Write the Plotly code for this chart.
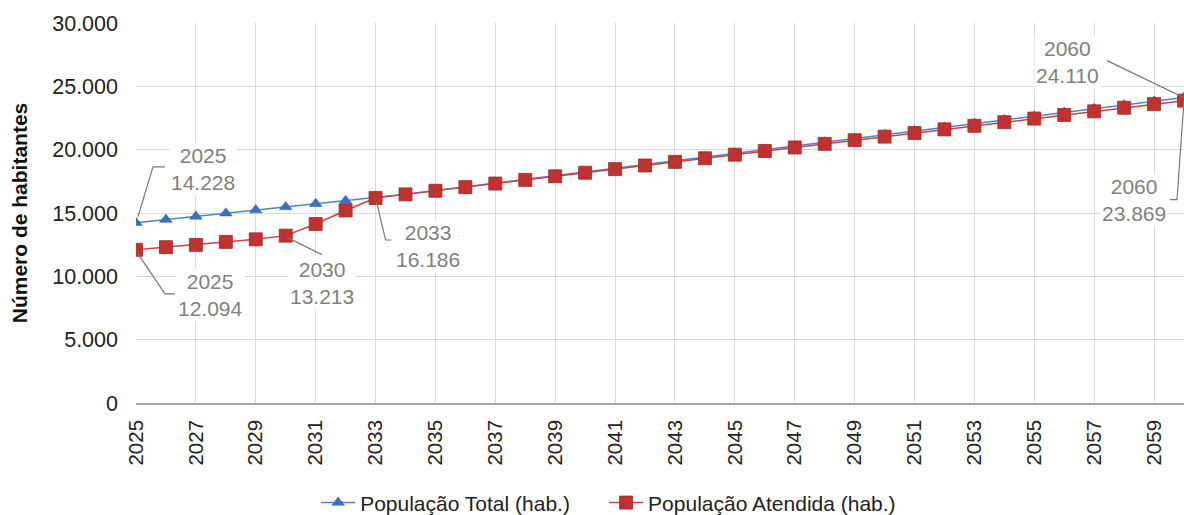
import plotly.graph_objects as go

years = list(range(2025, 2061))
pop_total = [14228, 14480, 14730, 14980, 15230, 15480, 15730, 15960, 16186,
             16480, 16773, 17066, 17360, 17654, 17947, 18240, 18534, 18828,
             19121, 19414, 19708, 20002, 20295, 20588, 20882, 21176, 21469,
             21762, 22056, 22350, 22643, 22936, 23230, 23524, 23817, 24110]
pop_atendida = [12094, 12300, 12480, 12720, 12920, 13213, 14130, 15200, 16186,
                16470, 16755, 17040, 17325, 17610, 17895, 18180, 18465, 18750,
                19035, 19320, 19605, 19890, 20175, 20460, 20745, 21030, 21315,
                21600, 21885, 22170, 22455, 22740, 23025, 23310, 23595, 23869]
tick_years = list(range(2025, 2060, 2))
tick_labels = [str(y) for y in tick_years]
y_ticks = [0, 5000, 10000, 15000, 20000, 25000, 30000]

FONT = "Liberation Sans, Arial, sans-serif"
GRAY = "#808080"
NB = "\u00a0"

def fmt(v):
    return f"{v:,}".replace(",", ".")

fig = go.Figure()
fig.add_trace(go.Scatter(
    x=years, y=pop_total, mode="lines+markers",
    name="População Total (hab.)" + NB * 5,
    line=dict(color="#4a86d0", width=1.5),
    marker=dict(symbol="triangle-up", size=11, color="#3d6fbf",
                line=dict(color="#2f5ea8", width=0.5)),
))
fig.add_trace(go.Scatter(
    x=years, y=pop_atendida, mode="lines+markers", name="População Atendida (hab.)",
    line=dict(color="#d0403f", width=1.5),
    marker=dict(symbol="square", size=13, color="#c0322f",
                line=dict(color="#a02825", width=0.8)),
))

# labels: (series, year, xshift, yshift, leader path in px relative to point, y up)
labels = [
    (pop_total, 2025, 67, 54, "M2,6 L17,56 L29,56"),
    (pop_atendida, 2025, 74, -45, "M2,-4 L29,-44 L39,-44"),
    (pop_atendida, 2030, 36, -47, "M2,-2 L36,-19"),
    (pop_atendida, 2033, 52, -48, "M1,-4 L10,-42 L16,-42"),
    (pop_total, 2060, -117, 36, "M-77,37 L0,0"),
    (pop_atendida, 2060, -50, -99, "M0,0 L-7,-99 L-14,-99"),
]
for series, yr, xs, ys, path in labels:
    v = series[years.index(yr)]
    fig.add_shape(type="path", xref="x", yref="y", xsizemode="pixel",
                  ysizemode="pixel", xanchor=yr, yanchor=v, path=path,
                  line=dict(color="#7a7a7a", width=1.2), layer="above")
    fig.add_annotation(x=yr, y=v, xref="x", yref="y", showarrow=False,
                       text=f"{yr}<br>{fmt(v)}", xshift=xs, yshift=ys,
                       font=dict(family=FONT, size=21, color=GRAY),
                       bgcolor="white", align="center")

fig.update_layout(
    width=1184, height=515,
    margin=dict(l=136, r=0, t=23, b=112, autoexpand=False),
    paper_bgcolor="white", plot_bgcolor="white",
    separators=",.",
    font=dict(family=FONT, size=20, color="#222222"),
    showlegend=True,
    legend=dict(orientation="h", x=0.451, xanchor="center", y=-0.263,
                yanchor="middle", font=dict(family=FONT, size=21, color="#222222"),
                itemwidth=34, tracegroupgap=0),
)
fig.update_xaxes(
    range=[2025, 2060], tickmode="array", tickvals=tick_years, ticktext=tick_labels,
    tickangle=-90, showgrid=True, gridcolor="#d9d9d9", gridwidth=1,
    showline=True, linecolor="#a6a6a6", linewidth=1.5, zeroline=False,
    ticks="", automargin=False, ticklabelstandoff=7,
    tickfont=dict(family=FONT, size=20.5, color="#222222"),
)
fig.update_yaxes(
    range=[0, 30000], tickmode="array", tickvals=y_ticks,
    ticktext=[fmt(t) for t in y_ticks],
    showgrid=True, gridcolor="#d9d9d9", gridwidth=1, zeroline=False,
    showline=False, ticks="", ticklabelstandoff=17, automargin=False,
    tickfont=dict(family=FONT, size=21.5, color="#222222"),
    title=dict(text="<b>Número de habitantes</b>", standoff=18,
               font=dict(family=FONT, size=21, color="#111111")),
)

fig.write_html("out.html", config={"displayModeBar": False},
               post_script="document.body.style.margin='0';document.body.style.overflow='hidden';")
